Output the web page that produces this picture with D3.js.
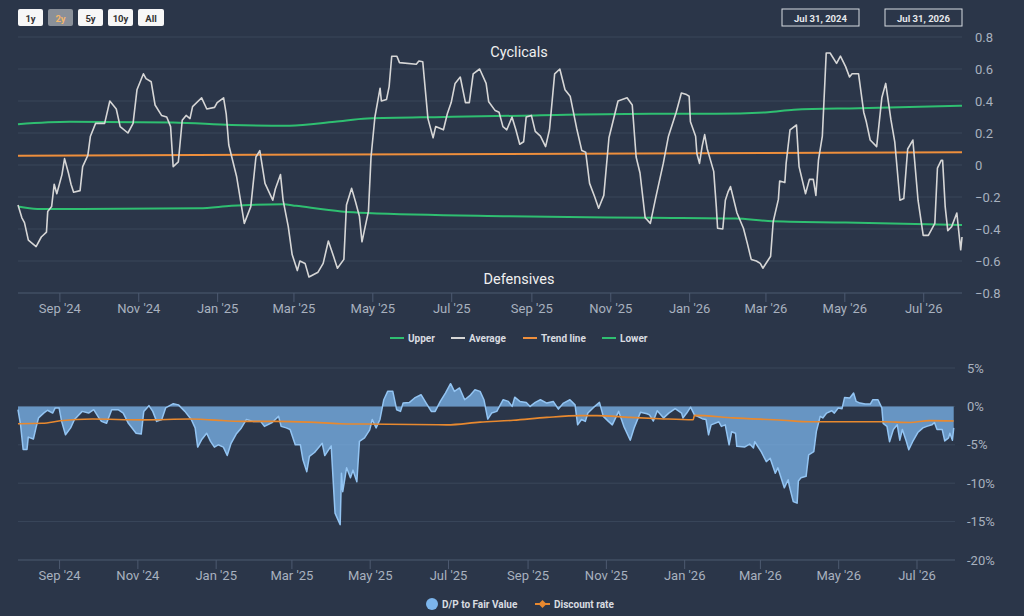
<!DOCTYPE html>
<html>
<head>
<meta charset="utf-8">
<script src="https://cdn.jsdelivr.net/npm/d3@7"></script>
<style>
  body { margin: 0; background: #2b3649; }
  svg { display: block; font-family: "Roboto", "Noto Sans", sans-serif; }
</style>
</head>
<body>
<div id="chart"></div>
<script>
// series start, values are given as day offsets from it
const startDate = new Date(2024, 6, 31)
const endDate = new Date(2026, 6, 31)

const rangeButtons = ["1y", "2y", "5y", "10y", "All"]
const selectedRange = "2y"
const rangeLabels = ["Jul 31, 2024", "Jul 31, 2026"]

// top panel: Average and its bands
const avgDays = [0, 3, 5, 8, 14, 18, 22, 23, 26, 28, 30, 34, 36, 39, 41, 43, 48, 50, 54, 56, 60, 67, 71, 76, 79, 85, 89, 92, 97, 99,
    103, 106, 111, 115, 118, 120, 124, 127, 130, 133, 135, 142, 146, 152, 154, 159, 161, 163, 169, 175, 180, 184, 187, 191, 197, 199,
    203, 205, 209, 212, 216, 218, 222, 225, 232, 236, 240, 244, 247, 252, 254, 258, 261, 264, 266, 271, 273, 276, 280, 281, 285, 287,
    289, 293, 295, 308, 310, 313, 317, 321, 323, 329, 332, 335, 338, 342, 346, 349, 352, 357, 362, 364, 369, 372, 375, 378, 382, 385,
    388, 391, 393, 397, 400, 404, 408, 411, 415, 419, 423, 427, 432, 436, 439, 442, 446, 449, 453, 457, 464, 471, 475, 478, 481, 485,
    489, 493, 499, 503, 507, 509, 513, 517, 519, 520, 524, 525, 527, 529, 531, 533, 538, 540, 541, 545, 547, 549, 551, 556, 561, 564,
    567, 571, 574, 576, 582, 584, 588, 589, 593, 594, 597, 602, 604, 609, 612, 615, 617, 619, 622, 625, 628, 633, 636, 640, 643, 645,
    650, 654, 656, 659, 664, 668, 671, 675, 678, 682, 685, 688, 692, 696, 700, 704, 709, 711, 714, 715, 717, 719, 722, 726, 729, 730]
const avgValues = [-0.25, -0.33, -0.36, -0.47, -0.51, -0.45, -0.42, -0.29, -0.26, -0.12, -0.18, -0.06, 0.04, -0.05, -0.12, -0.17,
    -0.16, -0.01, 0.06, 0.18, 0.26, 0.26, 0.40, 0.35, 0.24, 0.20, 0.26, 0.47, 0.57, 0.54, 0.52, 0.375, 0.31, 0.30, 0.24, -0.01, 0.02,
    0.28, 0.31, 0.29, 0.365, 0.42, 0.35, 0.36, 0.39, 0.42, 0.32, 0.125, -0.07, -0.365, -0.26, 0.05, 0.09, -0.115, -0.22, -0.15, -0.06,
    -0.22, -0.385, -0.56, -0.66, -0.60, -0.615, -0.70, -0.67, -0.615, -0.475, -0.57, -0.645, -0.59, -0.25, -0.146, -0.23, -0.32, -0.48,
    -0.29, 0.05, 0.30, 0.48, 0.40, 0.41, 0.49, 0.68, 0.68, 0.64, 0.63, 0.65, 0.645, 0.29, 0.17, 0.24, 0.22, 0.32, 0.39, 0.51, 0.55,
    0.39, 0.39, 0.57, 0.60, 0.51, 0.395, 0.34, 0.33, 0.24, 0.22, 0.30, 0.22, 0.13, 0.145, 0.30, 0.31, 0.21, 0.18, 0.115, 0.22, 0.57,
    0.60, 0.47, 0.43, 0.23, 0.09, 0.08, -0.115, -0.20, -0.27, -0.19, 0.17, 0.40, 0.42, 0.375, 0.05, -0.05, -0.33, -0.365, -0.21, 0.01,
    0.18, 0.28, 0.33, 0.45, 0.44, 0.43, 0.27, 0.18, 0.07, 0.01, 0.115, 0.19, 0.10, -0.04, -0.26, -0.395, -0.40, -0.22, -0.17, -0.135,
    -0.30, -0.395, -0.49, -0.59, -0.60, -0.615, -0.645, -0.57, -0.355, -0.215, -0.10, -0.11, 0.01, 0.22, 0.25, -0.01, -0.18, -0.09,
    -0.09, -0.19, 0.03, 0.18, 0.70, 0.70, 0.635, 0.68, 0.615, 0.55, 0.57, 0.57, 0.33, 0.27, 0.156, 0.115, 0.42, 0.51, 0.285, 0.145,
    -0.22, -0.21, 0.10, 0.156, -0.22, -0.44, -0.44, -0.365, -0.02, 0.03, 0.03, -0.26, -0.41, -0.385, -0.30, -0.53, -0.45]

const upperDays = [0, 40, 120, 165, 210, 245, 270, 330, 400, 490, 540, 580, 600, 650, 730]
const upperValues = [0.255, 0.27, 0.265, 0.25, 0.245, 0.27, 0.29, 0.30, 0.31, 0.32, 0.32, 0.33, 0.345, 0.355, 0.37]

const lowerDays = [0, 15, 140, 165, 205, 215, 250, 270, 380, 490, 555, 580, 640, 730]
const lowerValues = [-0.26, -0.275, -0.27, -0.255, -0.245, -0.255, -0.29, -0.30, -0.32, -0.33, -0.335, -0.35, -0.36, -0.375]

const trendDays = [0, 730]
const trendValues = [0.058, 0.08]

const topTicks = [0.8, 0.6, 0.4, 0.2, 0, -0.2, -0.4, -0.6, -0.8]
const topLegend = ["Upper", "Average", "Trend line", "Lower"]

// bottom panel: D/P to fair value (%) and discount rate (%)
const dpDays = [0, 2, 4, 7, 8, 12, 14, 16, 20, 23, 27, 29, 32, 34, 37, 41, 44, 50, 55, 59, 63, 65, 69, 73, 78, 82, 86, 92, 96, 98,
    102, 105, 108, 112, 115, 121, 125, 130, 135, 138, 140, 143, 147, 150, 153, 156, 160, 163, 166, 170, 174, 178, 183, 189, 192, 198,
    203, 205, 209, 212, 216, 220, 222, 225, 227, 231, 237, 239, 244, 247, 251, 252, 253, 256, 259, 261, 264, 266, 270, 274, 276, 279,
    282, 285, 288, 292, 295, 298, 300, 305, 309, 314, 318, 322, 325, 329, 333, 337, 340, 344, 348, 352, 356, 360, 363, 366, 369, 373,
    378, 382, 385, 387, 391, 396, 399, 403, 407, 412, 417, 421, 425, 430, 434, 436, 439, 442, 444, 448, 453, 456, 460, 463, 468, 472,
    477, 480, 485, 490, 492, 495, 498, 503, 507, 512, 517, 518, 521, 524, 527, 533, 536, 538, 540, 546, 548, 551, 554, 556, 559, 560,
    566, 570, 573, 574, 579, 583, 586, 590, 592, 595, 597, 600, 601, 604, 607, 608, 610, 614, 616, 620, 622, 625, 627, 630, 634, 636,
    639, 642, 644, 648, 651, 653, 656, 660, 664, 666, 670, 673, 674, 677, 679, 682, 685, 687, 689, 692, 694, 697, 701, 705, 708, 712,
    714, 716, 720, 722, 725, 726, 728, 729]
const dpValues = [-0.43, -2.4, -5.6, -5.6, -4.0, -4.25, -2.8, -1.5, -0.87, -0.5, -0.87, -0.2, -0.2, -1.95, -3.7, -2.8, -1.7, -0.65,
    -0.87, -0.43, -1.5, -1.95, -2.2, -0.43, -0.43, -0.87, -2.2, -3.5, -3.6, -0.65, 0.1, -0.65, -1.95, -1.7, -0.2, 0.35, 0.2, -0.65,
    -1.7, -2.8, -5.3, -4.35, -3.5, -4.55, -5.3, -5.0, -5.3, -6.4, -4.8, -3.6, -2.8, -1.7, -1.95, -1.95, -2.6, -2.1, -1.3, -2.6, -2.8,
    -3.0, -5.0, -5.0, -6.95, -8.5, -6.5, -6.0, -4.8, -6.4, -5.15, -13.9, -15.4, -8.7, -11.1, -8.0, -9.3, -8.3, -9.8, -4.55, -4.1, -3.05,
    -1.7, -2.8, -1.7, 0.87, 1.96, 1.96, -0.43, -0.65, 0.43, 0.52, 1.1, 1.52, 0.43, -0.65, -0.65, 0.65, 1.74, 2.96, 1.96, 2.4, 0.87,
    1.4, 2.17, 1.96, 0.87, -1.65, -0.87, -0.65, 0.87, 0.65, 0, 1.2, 0.65, 0.52, 0, 0.52, 0.87, 0.43, 0.65, -0.35, 0.43, 0.87, 0.2,
    -2.4, -1.7, -1.95, -0.87, -0.2, 0.52, -1.3, -1.95, -2.4, -0.65, -2.6, -4.4, -2.8, -0.75, -0.95, -1.1, -1.9, -0.56, -1.5, -0.87,
    -0.3, -0.87, -1.5, -0.87, -0.1, -1.1, -1.6, -1.7, -3.7, -2.4, -2.0, -2.6, -2.4, -5.0, -3.3, -3.5, -5.2, -5.3, -4.9, -5.4, -4.6,
    -5.9, -7.2, -6.75, -8.7, -8.0, -9.55, -10.6, -9.55, -10.4, -12.4, -12.6, -9.7, -9.3, -9.1, -6.3, -5.9, -3.26, -1.3, -1.5, -0.87,
    -0.56, -0.87, -0.2, -0.3, 1.17, 1.1, 1.74, 0.65, 0.43, 0.3, 0.3, 0.87, 0.87, -0.2, -2.2, -2.6, -4.6, -3.0, -2.4, -4.4, -3.0,
    -4.5, -5.65, -4.6, -3.4, -2.8, -2.6, -2.4, -2.1, -3.0, -3.0, -4.5, -4.1, -3.5, -4.4, -2.8]

const rateDays = [0, 19, 33, 58, 97, 134, 150, 175, 202, 227, 251, 269, 334, 360, 386, 412, 438, 451, 477, 500, 526, 527, 557, 596,
    617, 674, 695, 710, 729]
const rateValues = [-2.25, -2.2, -1.87, -1.65, -1.75, -1.65, -1.75, -1.95, -1.95, -2.05, -2.25, -2.3, -2.4, -2.05, -1.8, -1.43,
    -1.2, -1.2, -1.43, -1.6, -1.74, -1.17, -1.5, -1.8, -2.0, -2.0, -2.1, -1.85, -1.9]

const bottomTicks = [5, 0, -5, -10, -15, -20]
const bottomLegend = ["D/P to Fair Value", "Discount rate"]

const bg = "#2b3649"
const gridColor = "#3a475b"
const axisColor = "#4d5a70"
const labelColor = "#a8b1bf"
const green = "#2fbf71"
const orange = "#ef8f3c"
const grey = "#d6d6d6"
const blue = "#7cb5ec"

const toDate = d => d3.timeDay.offset(startDate, d)
const zip = (days, vals) => days.map((d, i) => ({ date: toDate(d), value: vals[i] }))

let svg = d3.select('#chart').append('svg')
    .attr('width', 1024)
    .attr('height', 616)

svg.append('rect').attr('width', 1024).attr('height', 616).attr('fill', bg)

// range selector buttons
let btn = svg.selectAll('g.btn')
    .data(rangeButtons)
    .enter()
    .append('g')
    .attr('transform', (d, i) => `translate(${18 + i * 30},9)`)

btn.append('rect')
    .attr('width', d => d === "All" ? 26 : 25)
    .attr('height', 17)
    .attr('rx', 2)
    .attr('fill', d => d === selectedRange ? "#8a9099" : "#f7f7f7")

btn.append('text')
    .attr('x', d => d === "All" ? 13 : 12.5)
    .attr('y', 12.5)
    .attr('text-anchor', 'middle')
    .attr('font-size', 9.5)
    .attr('font-weight', 'bold')
    .attr('fill', d => d === selectedRange ? "#f3b66c" : "#333")
    .text(d => d)

// date range boxes
let box = svg.selectAll('g.range')
    .data(rangeLabels)
    .enter()
    .append('g')
    .attr('transform', (d, i) => `translate(${782 + i * 103},9)`)

box.append('rect')
    .attr('width', 77)
    .attr('height', 17)
    .attr('fill', 'none')
    .attr('stroke', '#d8dce2')
    .attr('stroke-width', 1)

box.append('text')
    .attr('x', 38.5)
    .attr('y', 12.5)
    .attr('text-anchor', 'middle')
    .attr('font-size', 9.5)
    .attr('font-weight', 'bold')
    .attr('fill', '#e6e8eb')
    .text(d => d)

// ---- top panel ----
let xTop = d3.scaleTime().domain([startDate, endDate]).range([18, 962])
let yTop = d3.scaleLinear().domain([-0.8, 0.8]).range([293, 37])

let topPanel = svg.append('g')

topPanel.selectAll('line.grid')
    .data(topTicks)
    .enter()
    .append('line')
    .attr('x1', 18).attr('x2', 962)
    .attr('y1', d => yTop(d)).attr('y2', d => yTop(d))
    .attr('stroke', d => d === -0.8 ? axisColor : gridColor)

topPanel.selectAll('text.ytick')
    .data(topTicks)
    .enter()
    .append('text')
    .attr('x', 975)
    .attr('y', d => yTop(d) + 4.5)
    .attr('font-size', 13)
    .attr('fill', labelColor)
    .text(d => d3.format('')(d))

let xAxisTop = d3.axisBottom(xTop)
    .ticks(d3.timeMonth.every(2))
    .tickFormat(d3.timeFormat("%b '%y"))
    .tickSize(9)
    .tickPadding(2)

let gxTop = topPanel.append('g')
    .attr('transform', 'translate(0,293)')
    .call(xAxisTop)
gxTop.select('.domain').remove()
gxTop.selectAll('line').attr('stroke', axisColor)
gxTop.selectAll('text').attr('fill', labelColor).attr('font-size', 13).attr('font-family', 'Roboto, sans-serif')

let line = d3.line().x(d => xTop(d.date)).y(d => yTop(d.value))
let smooth = d3.line().curve(d3.curveMonotoneX).x(d => xTop(d.date)).y(d => yTop(d.value))

topPanel.append('path').datum(zip(upperDays, upperValues))
    .attr('d', smooth)
    .attr('fill', 'none').attr('stroke', green).attr('stroke-width', 2)
topPanel.append('path').datum(zip(lowerDays, lowerValues))
    .attr('d', smooth)
    .attr('fill', 'none').attr('stroke', green).attr('stroke-width', 2)
topPanel.append('path').datum(zip(trendDays, trendValues))
    .attr('d', line)
    .attr('fill', 'none').attr('stroke', orange).attr('stroke-width', 2)
topPanel.append('path').datum(zip(avgDays, avgValues))
    .attr('d', line)
    .attr('fill', 'none').attr('stroke', grey).attr('stroke-width', 1.6)
    .attr('stroke-linejoin', 'round')

topPanel.append('text')
    .attr('x', 519).attr('y', 57)
    .attr('text-anchor', 'middle')
    .attr('font-size', 14.5)
    .attr('fill', '#f0f0f0')
    .text('Cyclicals')

topPanel.append('text')
    .attr('x', 519).attr('y', 284)
    .attr('text-anchor', 'middle')
    .attr('font-size', 14.5)
    .attr('fill', '#f0f0f0')
    .text('Defensives')

// legend top
const topLegendColors = [green, grey, orange, green]
const topLegendX = [390, 451, 523, 602]
let lg = svg.selectAll('g.lgTop')
    .data(topLegend)
    .enter()
    .append('g')
    .attr('transform', (d, i) => `translate(${topLegendX[i]},338)`)
lg.append('line')
    .attr('x1', 0).attr('x2', 14)
    .attr('stroke', (d, i) => topLegendColors[i])
    .attr('stroke-width', 2)
lg.append('text')
    .attr('x', 18).attr('y', 3.5)
    .attr('font-size', 10)
    .attr('font-weight', 'bold')
    .attr('fill', '#d9dce1')
    .text(d => d)

// ---- bottom panel ----
let xBot = d3.scaleTime().domain([startDate, endDate]).range([18, 955])
let yBot = d3.scaleLinear().domain([-20, 5]).range([560, 368])

let botPanel = svg.append('g')

botPanel.selectAll('line.grid')
    .data(bottomTicks)
    .enter()
    .append('line')
    .attr('x1', 18).attr('x2', 955)
    .attr('y1', d => yBot(d)).attr('y2', d => yBot(d))
    .attr('stroke', d => d === -20 ? axisColor : gridColor)

botPanel.selectAll('text.ytick')
    .data(bottomTicks)
    .enter()
    .append('text')
    .attr('x', 967)
    .attr('y', d => yBot(d) + 4.5)
    .attr('font-size', 13)
    .attr('fill', labelColor)
    .text(d => d + '%')

let gxBot = botPanel.append('g')
    .attr('transform', 'translate(0,560)')
    .call(d3.axisBottom(xBot)
        .ticks(d3.timeMonth.every(2))
        .tickFormat(d3.timeFormat("%b '%y"))
        .tickSize(9)
        .tickPadding(2))
gxBot.select('.domain').remove()
gxBot.selectAll('line').attr('stroke', axisColor)
gxBot.selectAll('text').attr('fill', labelColor).attr('font-size', 13).attr('font-family', 'Roboto, sans-serif')

let dpData = zip(dpDays, dpValues)
botPanel.append('path').datum(dpData)
    .attr('d', d3.area().x(d => xBot(d.date)).y0(yBot(0)).y1(d => yBot(d.value)))
    .attr('fill', blue).attr('fill-opacity', 0.75)
botPanel.append('path').datum(dpData)
    .attr('d', d3.line().x(d => xBot(d.date)).y(d => yBot(d.value)))
    .attr('fill', 'none').attr('stroke', '#93c4f2').attr('stroke-width', 1.5)
    .attr('stroke-linejoin', 'round')
botPanel.append('path').datum(zip(rateDays, rateValues))
    .attr('d', d3.line().curve(d3.curveMonotoneX).x(d => xBot(d.date)).y(d => yBot(d.value)))
    .attr('fill', 'none').attr('stroke', '#e8892f').attr('stroke-width', 1.6)

// legend bottom
let lb = svg.append('g').attr('transform', 'translate(0,604)')
lb.append('circle').attr('cx', 432).attr('cy', 0).attr('r', 6).attr('fill', blue)
lb.append('text').attr('x', 442).attr('y', 3.5)
    .attr('font-size', 10).attr('font-weight', 'bold').attr('fill', '#d9dce1')
    .text(bottomLegend[0])
lb.append('line').attr('x1', 535).attr('x2', 550).attr('stroke', '#e8892f').attr('stroke-width', 2)
lb.append('path').attr('d', 'M542.5,-4L546.5,0L542.5,4L538.5,0Z').attr('fill', '#e8892f')
lb.append('text').attr('x', 554).attr('y', 3.5)
    .attr('font-size', 10).attr('font-weight', 'bold').attr('fill', '#d9dce1')
    .text(bottomLegend[1])
</script>
</body>
</html>
